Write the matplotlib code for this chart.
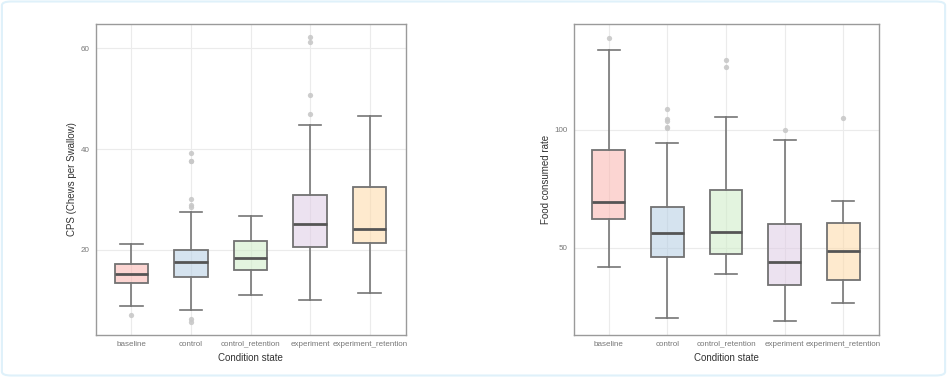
import matplotlib
matplotlib.use("Agg")
import matplotlib.pyplot as plt
from matplotlib.patches import FancyBboxPatch

plt.rcParams["font.family"] = ["Liberation Sans", "DejaVu Sans"]

# categories and colours
conditions = ["baseline", "control", "control_retention", "experiment", "experiment_retention"]
box_colors = ["#FBB4AE", "#B3CDE3", "#CCEBC5", "#DECBE4", "#FED9A6"]

# CPS panel: box statistics
cps_whislo = [8.8, 8.0, 11.1, 10.1, 11.5]
cps_q1 = [13.4, 14.6, 16.0, 20.6, 21.3]
cps_med = [15.3, 17.6, 18.4, 25.1, 24.2]
cps_q3 = [17.2, 19.9, 21.7, 30.9, 32.4]
cps_whishi = [21.1, 27.5, 26.8, 44.8, 46.6]
cps_fliers = [
    [7.0],
    [39.3, 37.7, 37.6, 30.1, 28.8, 28.4, 6.2, 5.7],
    [],
    [62.2, 61.2, 50.7, 47.0],
    [],
]

# Food consumed rate panel
food_whislo = [42.1, 20.5, 38.8, 18.9, 26.8]
food_q1 = [62.1, 46.0, 47.3, 34.5, 36.6]
food_med = [69.4, 56.4, 56.9, 43.9, 48.9]
food_q3 = [91.4, 67.4, 74.7, 60.3, 60.6]
food_whishi = [133.9, 94.4, 105.5, 95.9, 69.9]
food_fliers = [
    [139.1],
    [108.9, 104.5, 103.7, 101.4, 100.8],
    [129.5, 126.7],
    [100.0],
    [105.2],
]

cps_ticks = [20, 40, 60]
food_ticks = [50, 100]


def make_stats(whislo, q1, med, q3, whishi, fliers):
    stats = []
    for i in range(len(conditions)):
        stats.append({
            "whislo": whislo[i], "q1": q1[i], "med": med[i],
            "q3": q3[i], "whishi": whishi[i], "fliers": fliers[i],
        })
    return stats


def draw_panel(ax, stats, ylabel, ylim, yticks):
    pos = list(range(1, len(conditions) + 1))
    bp = ax.bxp(stats, positions=pos, widths=0.56, patch_artist=True,
                showfliers=True,
                boxprops=dict(edgecolor="#727272", linewidth=1.3),
                medianprops=dict(color="#555555", linewidth=2.0),
                whiskerprops=dict(color="#767676", linewidth=1.2),
                capprops=dict(color="#767676", linewidth=1.2),
                capwidths=0.38,
                flierprops=dict(marker="o", markersize=3.8, markerfacecolor="#c8c8c8",
                                markeredgecolor="none", alpha=0.9))
    for patch, c in zip(bp["boxes"], box_colors):
        r, g, b = matplotlib.colors.to_rgb(c)
        patch.set_facecolor((r, g, b, 0.55))
    ax.set_xlim(0.4, len(conditions) + 0.6)
    ax.set_ylim(*ylim)
    ax.set_yticks(yticks)
    ax.set_xticks(pos)
    ax.set_xticklabels(conditions)
    ax.grid(True, color="#ebebeb", linewidth=0.8)
    ax.set_axisbelow(True)
    for s in ax.spines.values():
        s.set_color("#9a9a9a")
        s.set_linewidth(1.0)
    ax.tick_params(axis="both", length=0, labelsize=5.8, labelcolor="#777777")
    ax.tick_params(axis="x", pad=4)
    ax.tick_params(axis="y", pad=4)
    ax.set_xlabel("Condition state", fontsize=7.0, color="#333333", labelpad=4)
    ax.set_ylabel(ylabel, fontsize=7.0, color="#333333", labelpad=3)


fig = plt.figure(figsize=(9.47, 3.77), dpi=100)
ax1 = fig.add_axes([95.5 / 947, 1 - 335 / 377, 310 / 947, 311 / 377])
ax2 = fig.add_axes([573.5 / 947, 1 - 335 / 377, 305 / 947, 311 / 377])

draw_panel(ax1, make_stats(cps_whislo, cps_q1, cps_med, cps_q3, cps_whishi, cps_fliers),
           "CPS (Chews per Swallow)", (3.1, 64.8), cps_ticks)
draw_panel(ax2, make_stats(food_whislo, food_q1, food_med, food_q3, food_whishi, food_fliers),
           "Food consumed rate", (13.1, 144.9), food_ticks)

# light outer frame of the image
frame = FancyBboxPatch((0.002, 0.004), 0.996, 0.992, boxstyle="round,pad=0,rounding_size=0.01",
                       transform=fig.transFigure, fill=False, edgecolor="#dff1fa", linewidth=1.5)
fig.patches.append(frame)

fig.savefig("out.png", dpi=100)
